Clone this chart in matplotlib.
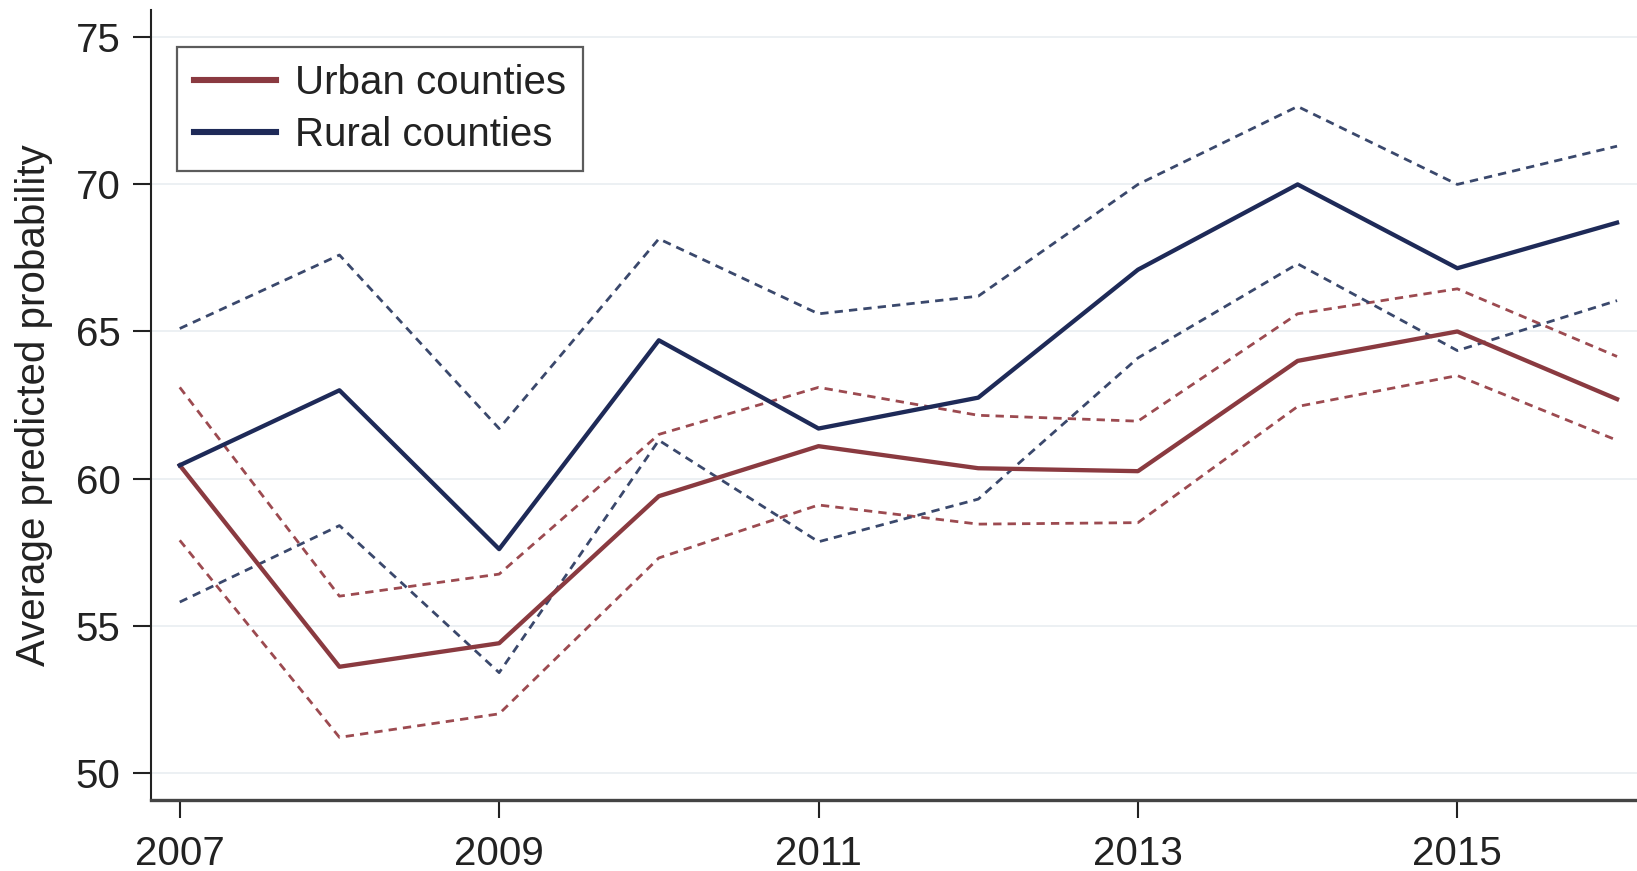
import matplotlib
matplotlib.use("Agg")
import matplotlib.pyplot as plt

years = [2007, 2008, 2009, 2010, 2011, 2012, 2013, 2014, 2015, 2016]
urban = [60.45, 53.6, 54.4, 59.4, 61.1, 60.35, 60.25, 64.0, 65.0, 62.7]
urban_hi = [63.1, 56.0, 56.75, 61.5, 63.1, 62.15, 61.95, 65.6, 66.45, 64.15]
urban_lo = [57.9, 51.2, 52.0, 57.3, 59.1, 58.45, 58.5, 62.45, 63.5, 61.3]
rural = [60.45, 63.0, 57.6, 64.7, 61.7, 62.75, 67.1, 70.0, 67.15, 68.7]
rural_hi = [65.1, 67.6, 61.7, 68.15, 65.6, 66.2, 70.0, 72.65, 70.0, 71.3]
rural_lo = [55.8, 58.4, 53.4, 61.3, 57.85, 59.3, 64.1, 67.3, 64.35, 66.05]
xticks = [2007, 2009, 2011, 2013, 2015]
yticks = [50, 55, 60, 65, 70, 75]
labels = ["Urban counties", "Rural counties"]
ylabel = "Average predicted probability"

plt.rcParams['font.family'] = ['Liberation Sans', 'DejaVu Sans']
FS = 29

W, H = 1637, 871
fig = plt.figure(figsize=(W / 100, H / 100), dpi=100)
ax = fig.add_axes([151 / W, 1 - 800 / H, 1 - 151 / W, (800 - 10) / H])

c_urban = '#8a3a40'
c_rural = '#1e2a58'
c_urban_d = '#9c4a50'
c_rural_d = '#3a486c'
dash = (0, (3.0, 2.2))

ax.plot(years, urban_hi, color=c_urban_d, lw=2.0, ls=dash, zorder=3)
ax.plot(years, urban_lo, color=c_urban_d, lw=2.0, ls=dash, zorder=3)
ax.plot(years, rural_hi, color=c_rural_d, lw=2.0, ls=dash, zorder=3)
ax.plot(years, rural_lo, color=c_rural_d, lw=2.0, ls=dash, zorder=3)
l1, = ax.plot(years, urban, color=c_urban, lw=3.1, zorder=4, label=labels[0])
l2, = ax.plot(years, rural, color=c_rural, lw=3.1, zorder=4, label=labels[1])

ax.set_xlim(2006.82, 2016.125)
ax.set_ylim(49.07, 75.93)
ax.set_xticks(xticks)
ax.set_yticks(yticks)
ax.tick_params(axis='both', labelsize=FS, length=13, width=1.5, pad=9,
               color='#222222', labelcolor='#222222', direction='out')
ax.tick_params(axis='x', pad=12)
ax.grid(axis='y', color='#eaeff2', lw=1.3, zorder=0)
ax.set_axisbelow(True)
for s in ['top', 'right']:
    ax.spines[s].set_visible(False)
ax.spines['left'].set_color('#222222')
ax.spines['left'].set_linewidth(1.5)
ax.spines['bottom'].set_color('#444444')
ax.spines['bottom'].set_linewidth(2.4)

ax.set_ylabel(ylabel, fontsize=FS, color='#222222')
ax.yaxis.set_label_coords(-0.066, 0.5)

leg = ax.legend(handles=[l1, l2], loc='upper left',
                bbox_to_anchor=(177 / W, 1 - 46.7 / H), bbox_transform=fig.transFigure,
                borderaxespad=0, fontsize=29, frameon=True, fancybox=False,
                handlelength=2.05, handletextpad=0.45, borderpad=0.42,
                labelspacing=0.36)
leg.get_frame().set_edgecolor('#333333')
leg.get_frame().set_linewidth(1.6)
for t in leg.get_texts():
    t.set_color('#222222')
for h in leg.legend_handles:
    h.set_linewidth(4.4)

fig.savefig('out.png', dpi=100)
